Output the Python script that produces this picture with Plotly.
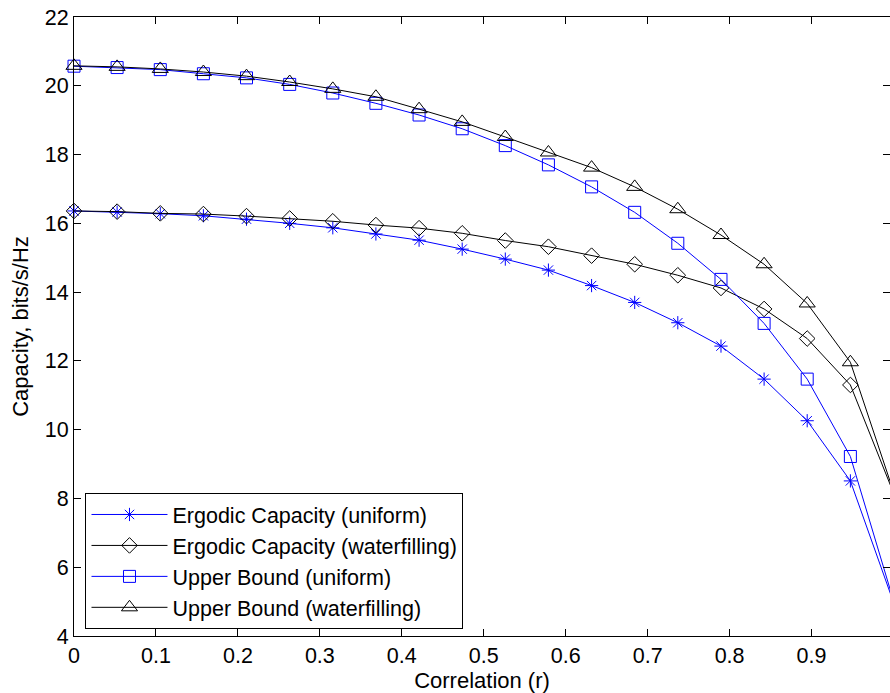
import plotly.graph_objects as go

# Correlation values (x)
correlation = [0, 0.0526, 0.1053, 0.1579, 0.2105, 0.2632, 0.3158, 0.3684, 0.4211, 0.4737,
               0.5263, 0.5789, 0.6316, 0.6842, 0.7368, 0.7895, 0.8421, 0.8947, 0.9474, 1.0]

ergodic_uniform = [16.36, 16.33, 16.28, 16.22, 16.12, 16.00, 15.87, 15.69, 15.51, 15.25,
                   14.96, 14.64, 14.19, 13.70, 13.11, 12.43, 11.47, 10.26, 8.51, 4.98]
ergodic_waterfilling = [16.36, 16.34, 16.29, 16.27, 16.21, 16.14, 16.06, 15.95, 15.86, 15.71,
                        15.50, 15.32, 15.06, 14.81, 14.49, 14.12, 13.51, 12.65, 11.30, 8.16]
upper_uniform = [20.57, 20.53, 20.47, 20.35, 20.23, 20.04, 19.79, 19.49, 19.15, 18.75,
                 18.26, 17.70, 17.06, 16.32, 15.42, 14.37, 13.09, 11.47, 9.22, 5.03]
upper_waterfilling = [20.58, 20.55, 20.49, 20.40, 20.28, 20.11, 19.91, 19.68, 19.32, 18.95,
                      18.51, 18.06, 17.62, 17.06, 16.41, 15.66, 14.81, 13.67, 11.96, 8.20]

series_names = ["Ergodic Capacity (uniform)", "Ergodic Capacity (waterfilling)",
                "Upper Bound (uniform)", "Upper Bound (waterfilling)"]

x_ticks = [0, 0.1, 0.2, 0.3, 0.4, 0.5, 0.6, 0.7, 0.8, 0.9, 1]
x_tick_labels = ["0", "0.1", "0.2", "0.3", "0.4", "0.5", "0.6", "0.7", "0.8", "0.9", "1"]
y_ticks = [4, 6, 8, 10, 12, 14, 16, 18, 20, 22]

FONT = "Liberation Sans, Arial, Helvetica, sans-serif"
BLUE = "rgb(0,0,255)"
BLACK = "rgb(0,0,0)"

styles = [
    (ergodic_uniform, BLUE, "asterisk-open", 11),
    (ergodic_waterfilling, BLACK, "diamond-open", 12),
    (upper_uniform, BLUE, "square-open", 12),
    (upper_waterfilling, BLACK, "triangle-up-open", 14),
]

fig = go.Figure()
for name, (vals, color, sym, size) in zip(series_names, styles):
    fig.add_trace(go.Scatter(
        x=correlation, y=vals, name=name, mode="lines+markers",
        line=dict(color=color, width=1),
        marker=dict(symbol=sym, size=size, color=color, line=dict(color=color, width=1)),
        cliponaxis=False,
    ))

W, H = 890, 693
left, right, top, bottom = 73.5, 0, 17, 57
x_full = 893.5  # pixel where correlation = 1 sits (beyond the visible page edge)
x_max = (W - right - left) / (x_full - left)

fig.update_layout(
    width=W, height=H,
    margin=dict(l=left, r=right, t=top, b=bottom, pad=0, autoexpand=False),
    paper_bgcolor="white", plot_bgcolor="white",
    font=dict(family=FONT, size=22, color=BLACK),
    showlegend=True,
    legend=dict(
        x=(85 - left) / (W - right - left), y=(636 - 629) / (636 - 17),
        xanchor="left", yanchor="bottom",
        bgcolor="white", bordercolor=BLACK, borderwidth=1,
        font=dict(family=FONT, size=21.5, color=BLACK),
        itemwidth=76, tracegroupgap=0,
    ),
    xaxis=dict(
        range=[0, x_max], tickvals=x_ticks, ticktext=x_tick_labels,
        ticks="inside", ticklen=7, tickcolor=BLACK, tickwidth=1,
        showline=True, linecolor=BLACK, linewidth=1, mirror="ticks",
        showgrid=False, zeroline=False,
        tickfont=dict(family=FONT, size=21.5, color=BLACK),
        title=dict(text="Correlation (r)", font=dict(family=FONT, size=22, color=BLACK), standoff=6),
        automargin=False,
    ),
    yaxis=dict(
        range=[4, 22], tickvals=y_ticks,
        ticks="inside", ticklen=7, tickcolor=BLACK, tickwidth=1,
        showline=True, linecolor=BLACK, linewidth=1, mirror="ticks",
        showgrid=False, zeroline=False,
        tickfont=dict(family=FONT, size=21.5, color=BLACK),
        title=dict(text="Capacity, bits/s/Hz", font=dict(family=FONT, size=22, color=BLACK), standoff=10),
        automargin=False,
    ),
)

fig.write_html("out.html")
